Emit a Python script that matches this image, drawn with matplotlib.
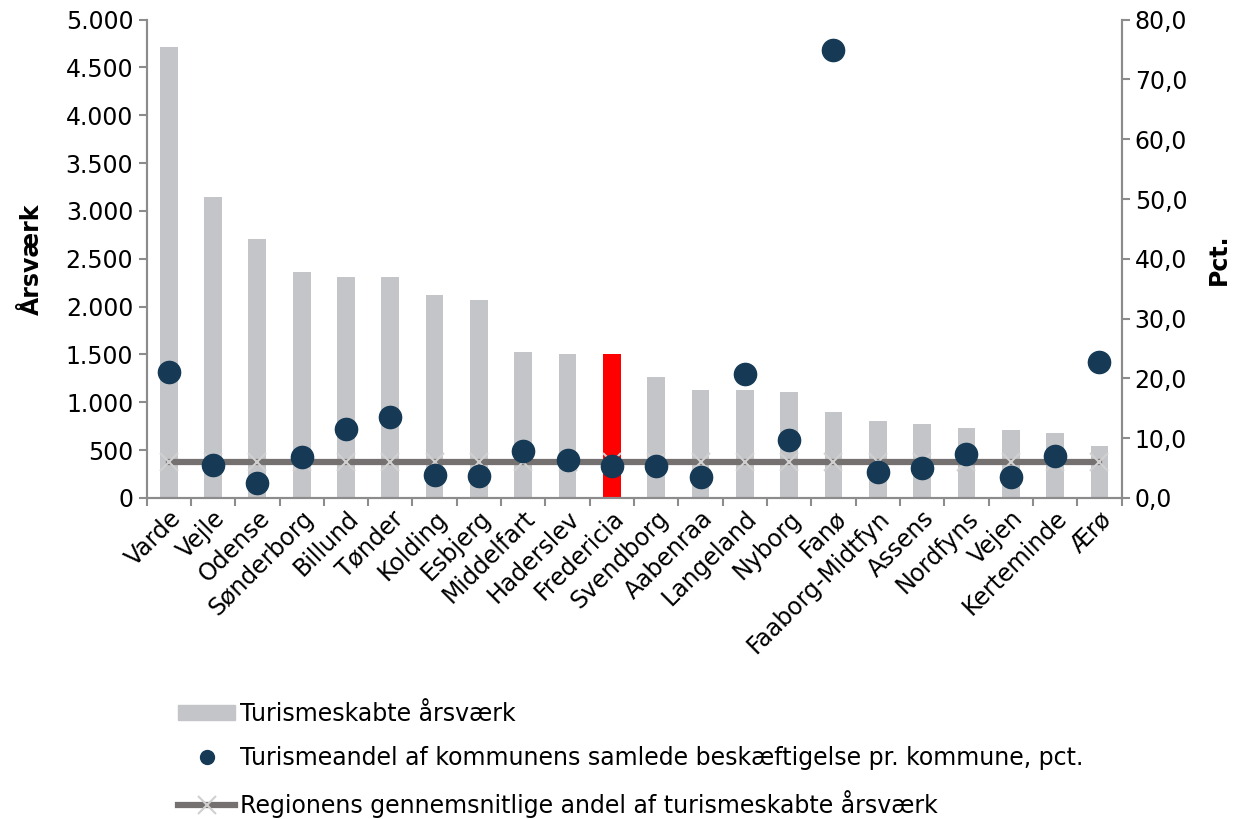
import numpy as np
import matplotlib
matplotlib.use('Agg')
import matplotlib.pyplot as plt
from matplotlib.lines import Line2D
from matplotlib.patches import Patch
from matplotlib.ticker import FuncFormatter, FixedLocator

# data
kommuner = ['Varde', 'Vejle', 'Odense', 'Sønderborg', 'Billund', 'Tønder', 'Kolding',
            'Esbjerg', 'Middelfart', 'Haderslev', 'Fredericia', 'Svendborg', 'Aabenraa',
            'Langeland', 'Nyborg', 'Fanø', 'Faaborg-Midtfyn', 'Assens', 'Nordfyns',
            'Vejen', 'Kerteminde', 'Ærø']
aarsvaerk = [4710, 3150, 2710, 2360, 2310, 2310, 2120, 2070, 1525, 1510, 1500, 1265,
             1125, 1125, 1110, 900, 808, 775, 731, 712, 681, 545]
andel = [21.0, 5.5, 2.5, 6.8, 11.6, 13.5, 3.9, 3.6, 7.9, 6.4, 5.4, 5.4, 3.5, 20.8,
         9.7, 75.0, 4.3, 5.0, 7.4, 3.5, 7.0, 22.7]
region_gns = [6.0] * len(kommuner)
fremhaevet = 'Fredericia'

plt.rcParams['font.family'] = ['DejaVu Sans']
plt.rcParams['font.size'] = 17

akse_farve = '#8c8c8c'
graa = '#c4c5c9'
prik = '#163a55'
x = np.arange(len(kommuner))
farver = ['#ff0000' if k == fremhaevet else graa for k in kommuner]

fig = plt.figure(figsize=(12.42, 8.19), dpi=100)
ax1 = fig.add_axes([0.118, 0.392, 0.785, 0.584])
ax2 = ax1.twinx()

# søjler på venstre akse
ax1.bar(x, aarsvaerk, width=0.4, color=farver, zorder=2)
ax1.set_xlim(-0.5, len(kommuner) - 0.5)
ax1.set_ylim(0, 5000)
ax1.set_yticks(np.arange(0, 5001, 500))
ax1.yaxis.set_major_formatter(FuncFormatter(lambda v, p: f'{int(v):,}'.replace(',', '.')))
ax1.set_ylabel('Årsværk', fontweight='bold', labelpad=16)

# linje og prikker på højre akse
ax2.plot(x, region_gns, color='#767171', lw=4.5, marker='x', markersize=13,
         markeredgecolor='#d0d0d0', markeredgewidth=1.5, zorder=3)
ax2.plot(x, andel, linestyle='none', marker='o', markersize=16, color=prik, zorder=4)
ax2.set_ylim(0, 80)
ax2.set_yticks(np.arange(0, 81, 10))
ax2.yaxis.set_major_formatter(FuncFormatter(lambda v, p: f'{v:.1f}'.replace('.', ',')))
ax2.set_ylabel('Pct.', fontweight='bold', labelpad=14)

# akser
for ax in (ax1, ax2):
    ax.spines['top'].set_visible(False)
    for s in ('left', 'right', 'bottom'):
        ax.spines[s].set_color(akse_farve)
        ax.spines[s].set_linewidth(1.5)
    ax.tick_params(axis='y', color=akse_farve, width=1.5, length=6)

ax1.set_xticks(x)
ax1.set_xticklabels(kommuner, rotation=45, ha='right', rotation_mode='anchor')
ax1.tick_params(axis='x', which='major', length=0, pad=6)
ax1.xaxis.set_minor_locator(FixedLocator(np.arange(-0.5, len(kommuner), 1)))
ax1.tick_params(axis='x', which='minor', length=6, width=1.5, color=akse_farve)

# forklaring
handles = [Patch(color=graa),
           Line2D([], [], linestyle='none', marker='o', markersize=10, color=prik),
           Line2D([], [], color='#767171', lw=4.5, marker='x', markersize=13,
                  markeredgecolor='#d0d0d0', markeredgewidth=1.5)]
fig.legend(handles,
           ['Turismeskabte årsværk',
            'Turismeandel af kommunens samlede beskæftigelse pr. kommune, pct.',
            'Regionens gennemsnitlige andel af turismeskabte årsværk'],
           loc='upper left', bbox_to_anchor=(0.134, 0.157), frameon=False,
           handlelength=2.4, handleheight=0.6, handletextpad=0.2,
           labelspacing=0.85, borderpad=0)

fig.savefig('out.png', dpi=100)
